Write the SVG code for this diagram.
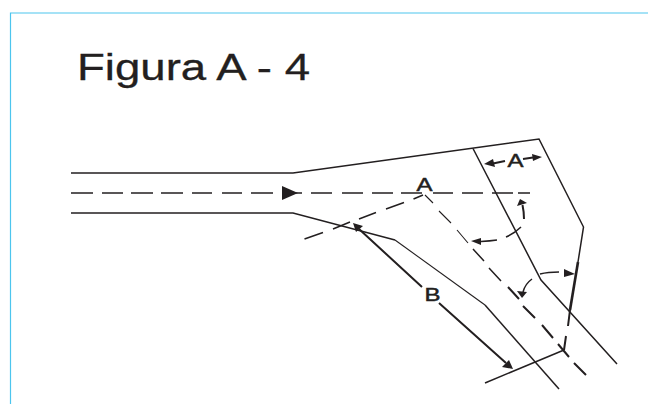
<svg xmlns="http://www.w3.org/2000/svg" width="648" height="404" viewBox="0 0 648 404">
<style>
.l{fill:none;stroke:#231f20;stroke-width:1.5;stroke-linejoin:miter}
.t{stroke-width:1.1}
.h{stroke-width:2}
.k{stroke-width:2.6}
.a{fill:#231f20;stroke:none}
text{font-family:"Liberation Sans",Arial,sans-serif;fill:#231f20}
.lb{font-size:19px;stroke:#231f20;stroke-width:.5}
</style>
<rect width="648" height="404" fill="#fff"/>
<path d="M10.500,404V13H648" fill="none" stroke="#4cc5ee" stroke-width="1.2"/>
<text x="77" y="80" font-size="36" stroke="#231f20" stroke-width=".3" textLength="233" lengthAdjust="spacingAndGlyphs">Figura A - 4</text>
<g id="road">
<path class="l" d="M71,173H293L539,139L583.500,227L578,262"/>
<path class="l k" d="M578,262L570,310"/>
<path class="l h" d="M570,310L568,326M566,336L564,350"/>
<path class="l" d="M71,213H293L395,240"/>
<path class="l t" d="M395,240L485,305"/>
<path class="l" d="M485,305L559,389"/>
<path class="l" d="M473,148.500L541,280L617,364"/>
<path class="l" d="M485,383L564,350"/>
</g>
<g id="centerlines">
<path class="l" d="M71,193H93M102,193H123M131,193H153M161,193H183M192,193H212M222,193H242M251,193H273M290,193H302M311,193H332M342,193H363M372,193H393M401,193H422M433,193H453M462,193H483M492,193H513M518,193H530"/>
<path class="l" d="M304.500,239L323,232.500M333,229L350,222M359,219L376,212.500M386,209L404,202.500M413.500,199L423,195"/>
<path class="l t" d="M425,195L433,203M439,211L451,223M457,230L468,243"/>
<path class="l" d="M473,249L484,261M489,268L501,281"/>
<path class="l h" d="M508,287L519,299M523,306L535,318M542,325L553,338M558,344L569,357M574,363L586,375"/>
</g>
<g id="connectors">
<path class="a" d="M282,186L298,193L282,200Z"/>
<path class="l h" d="M359,229L422,287M439,303L506,363"/>
<path class="a" d="M353,223L363,226L356,232Z"/>
<path class="a" d="M513,369L502,367L509,360Z"/>
<path class="l h" d="M505,161L493,163.500M523,159L533,157.500"/>
<path class="a" d="M484,164L493,159L495,167Z"/>
<path class="a" d="M542,157L532,154L533,161Z"/>
<path class="l h" d="M524,219Q524,212 522.500,205"/>
<path class="a" d="M520,199L527,203L517,206Z"/>
<path class="l" d="M521,227Q515,233 506,237M497,240Q490,241 481,241.500"/>
<path class="a" d="M471,241L481,238L481,245Z"/>
<path class="l" d="M540,274Q548,272 559,272"/>
<path class="a" d="M575,274L564,269L564,277Z"/>
<path class="l" d="M532,279Q525,284 523,292"/>
<path class="a" d="M522,298L517,291L527,292Z"/>
</g>
<g id="labels">
<text class="lb" x="416.500" y="191" textLength="16" lengthAdjust="spacingAndGlyphs">A</text>
<text class="lb" x="507.500" y="167" textLength="16" lengthAdjust="spacingAndGlyphs">A</text>
<text class="lb" x="424.500" y="301" textLength="16" lengthAdjust="spacingAndGlyphs">B</text>
</g>
</svg>
